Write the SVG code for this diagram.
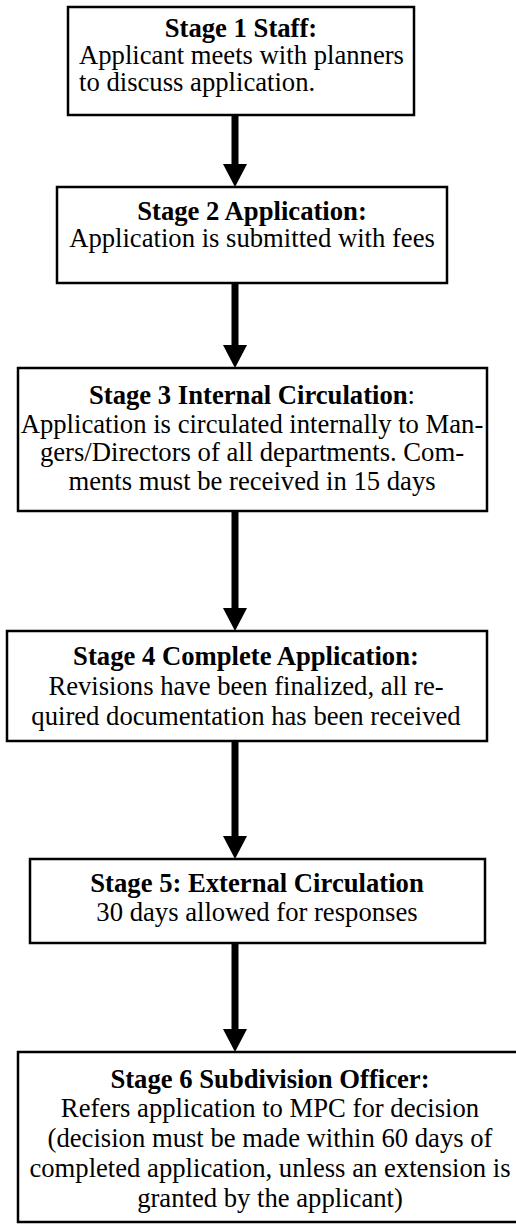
<svg xmlns="http://www.w3.org/2000/svg" width="516" height="1227" viewBox="0 0 516 1227">
<defs>
<style>
.box{fill:#fff;stroke:#000;stroke-width:2.5}
.t{font-family:"Liberation Serif","Times New Roman",serif;font-size:26.67px;fill:#000;text-anchor:middle}
.l{text-anchor:start}
.b{font-weight:bold}
.shaft{stroke:#000;stroke-width:7;fill:none}
.head{fill:#000}
</style>
</defs>
<rect width="516" height="1227" fill="#fff"/>
<g id="connectors">
<line class="shaft" x1="235" y1="116" x2="235" y2="166"/><polygon class="head" points="223,164 247,164 235,187"/>
<line class="shaft" x1="235" y1="284" x2="235" y2="347"/><polygon class="head" points="223,345 247,345 235,368"/>
<line class="shaft" x1="235" y1="512" x2="235" y2="610"/><polygon class="head" points="223,608 247,608 235,631"/>
<line class="shaft" x1="235" y1="742" x2="235" y2="838"/><polygon class="head" points="223,836 247,836 235,859"/>
<line class="shaft" x1="235" y1="944" x2="235" y2="1031"/><polygon class="head" points="223,1029 247,1029 235,1052"/>
</g>
<g id="stage1">
<rect class="box" x="68" y="7" width="346" height="108"/>
<text class="t b" x="241" y="37">Stage 1 Staff:</text>
<text class="t l" x="79" y="64">Applicant meets with planners</text>
<text class="t l" x="79" y="91">to discuss application.</text>
</g>
<g id="stage2">
<rect class="box" x="57" y="187" width="390" height="96"/>
<text class="t b" x="252" y="220">Stage 2 Application:</text>
<text class="t" x="252" y="247">Application is submitted with fees</text>
</g>
<g id="stage3">
<rect class="box" x="18" y="368" width="469" height="143"/>
<text class="t" x="252" y="404"><tspan class="b">Stage 3 Internal Circulation</tspan>:</text>
<text class="t" x="252" y="433">Application is circulated internally to Man-</text>
<text class="t" x="252" y="461">gers/Directors of all departments.  Com-</text>
<text class="t" x="252" y="490">ments must be received in 15 days</text>
</g>
<g id="stage4">
<rect class="box" x="7" y="631" width="480" height="110"/>
<text class="t b" x="246" y="665">Stage 4 Complete Application:</text>
<text class="t" x="246" y="695">Revisions have been finalized, all re-</text>
<text class="t" x="246" y="725">quired documentation has been received</text>
</g>
<g id="stage5">
<rect class="box" x="30" y="859" width="455" height="84"/>
<text class="t b" x="257" y="892">Stage 5: External Circulation</text>
<text class="t" x="257" y="921">30 days allowed for responses</text>
</g>
<g id="stage6">
<rect class="box" x="18" y="1052" width="510" height="170"/>
<text class="t b" x="270" y="1088">Stage 6 Subdivision Officer:</text>
<text class="t" x="270" y="1117">Refers application to MPC for decision</text>
<text class="t" x="270" y="1147">(decision must be made within 60 days of</text>
<text class="t" x="270" y="1177">completed application, unless an extension is</text>
<text class="t" x="270" y="1207">granted by the applicant)</text>
</g>
</svg>
